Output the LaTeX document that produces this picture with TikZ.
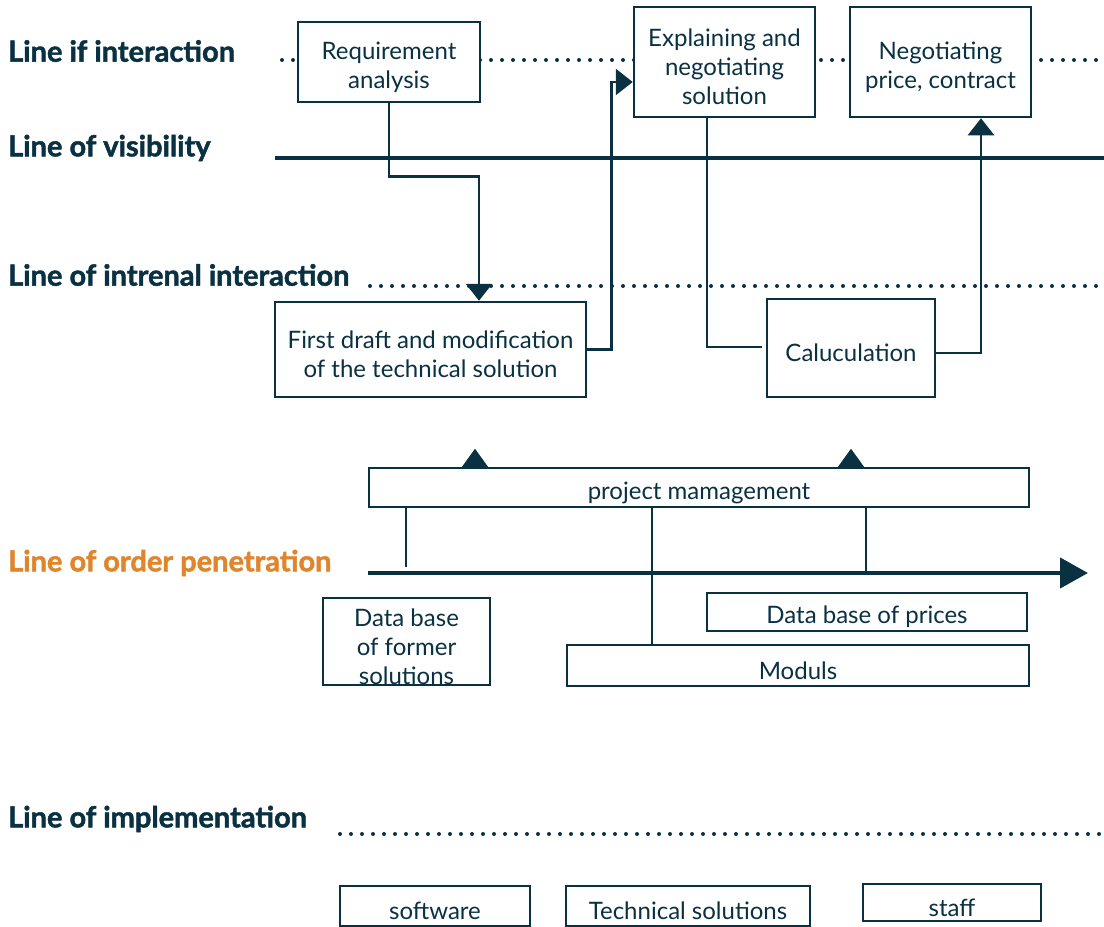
\documentclass[tikz,border=0pt]{standalone}
\usepackage{fontspec}
\setmainfont{Lato}[BoldFeatures={FakeBold=1.6}]
\usetikzlibrary{arrows.meta,calc}
\definecolor{ink}{HTML}{0A3142}
\definecolor{orng}{HTML}{E0852C}
\begin{document}
\begin{tikzpicture}[x=1pt,y=-1pt,
  every node/.style={text=ink},
  heading/.style={anchor=west,font=\fontsize{29}{33}\selectfont\bfseries,inner sep=0pt},
  box/.style={draw=ink,line width=2.5pt,fill=white,inner sep=0pt},
  txt/.style={inner sep=0pt,align=center,font=\fontsize{24}{29}\selectfont,yshift=-5pt},
  dotline/.style={draw=ink,line width=4pt,line cap=round,dash pattern=on 0pt off 11pt},
  solidline/.style={draw=ink,line width=4.5pt},
  conn/.style={draw=ink,line width=2.5pt},
  tip/.style={-{Triangle[width=26pt,length=17pt]}}
]
\useasboundingbox (0,0) rectangle (1104,927);

% headings
\node[heading] (h1) at (8,51) {Line if interaction};
\node[heading] (h2) at (8,148) {Line of visibility};
\node[heading] (h3) at (8,275) {Line of intrenal interaction};
\node[heading,text=orng] (h4) at (8,563) {Line of order penetration};
\node[heading] (h5) at (8,819) {Line of implementation};

% lines
\coordinate (i1) at (282,60); \coordinate (i2) at (1104,60);
\coordinate (v1) at (275,158); \coordinate (v2) at (1104,158);
\coordinate (n1) at (370,286); \coordinate (n2) at (1104,286);
\coordinate (p1) at (368,573); \coordinate (p2) at (1088,573);
\coordinate (m1) at (340,834); \coordinate (m2) at (1104,834);
\draw[dotline] (i1) -- (i2);
\draw[solidline] (v1) -- (v2);
\draw[dotline] (n1) -- (n2);
\draw[dotline] (m1) -- (m2);

% boxes
\node[box,minimum width=182pt,minimum height=80pt] (req) at (389,62) {};
\node[txt] (req-t) at (req.center) {Requirement\\analysis};
\node[box,minimum width=181pt,minimum height=110pt] (expl) at (724.5,62) {};
\node[txt] (expl-t) at (expl.center) {Explaining and\\negotiating\\solution};
\node[box,minimum width=181pt,minimum height=110pt] (nego) at (940.5,62) {};
\node[txt] (nego-t) at (nego.center) {Negotiating\\price, contract};
\node[box,minimum width=311pt,minimum height=95pt] (draft) at (430.5,349.5) {};
\node[txt] (draft-t) at (draft.center) {First draft and modification\\of the technical solution};
\node[box,minimum width=168pt,minimum height=98pt] (calc) at (851,348) {};
\node[txt] (calc-t) at (calc.center) {Caluculation};
\node[box,minimum width=660pt,minimum height=39pt] (pm) at (699,487.5) {};
\node[txt] (pm-t) at (pm.center) {project mamagement};
\node[box,minimum width=167pt,minimum height=87pt] (former) at (406.5,641.5) {};
\node[txt] (former-t) at (former.center) {Data base\\of former\\solutions};
\node[box,minimum width=320pt,minimum height=38pt] (prices) at (867,612) {};
\node[txt] (prices-t) at (prices.center) {Data base of prices};
\node[box,minimum width=462pt,minimum height=41pt] (mod) at (798,665.5) {};
\node[txt] (mod-t) at (mod.center) {Moduls};
\node[box,minimum width=190pt,minimum height=40pt] (soft) at (435,906) {};
\node[txt] (soft-t) at (soft.center) {software};
\node[box,minimum width=244pt,minimum height=40pt] (tech) at (688,906) {};
\node[txt] (tech-t) at (tech.center) {Technical solutions};
\node[box,minimum width=178pt,minimum height=37pt] (staff) at (952,902.5) {};
\node[txt] (staff-t) at (staff.center) {staff};

% order penetration arrow
\draw[solidline,-{Triangle[width=30pt,length=28pt]}] (p1) -- (p2);

% connectors
\draw[conn,tip] (req.south) -- ++(0,73) -| ([xshift=48.5pt]draft.north);
\draw[conn,tip] (draft.east) -- ++(24,0) |- ([yshift=-20pt]expl.west);
\draw[conn] ([xshift=-17.5pt]expl.south) |- ([xshift=-4pt,yshift=1pt]calc.west);
\draw[conn,tip] ([yshift=-5pt]calc.east) -| ([xshift=40.5pt]nego.south);

% triangles on project management
\fill[ink] ([xshift=-237pt]pm.north) -- ++(13,-18) -- ++(13,18) -- cycle;
\fill[ink] ([xshift=139pt]pm.north) -- ++(13,-18) -- ++(13,18) -- cycle;

% verticals from project management
\coordinate (d1) at (406,567);
\draw[conn] (pm.south -| d1) -- (d1);
\draw[conn] ([xshift=-146pt]mod.north) -- ([xshift=-146pt]mod.north |- pm.south);
\draw[conn] (pm.south -| 866,0) -- (p1 -| 866,0);
\end{tikzpicture}
\end{document}
